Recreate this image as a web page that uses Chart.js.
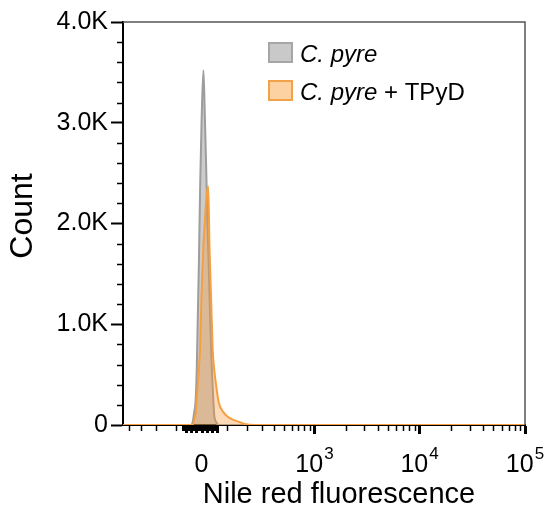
<!DOCTYPE html>
<html>
<head>
<meta charset="utf-8">
<script src="https://cdn.jsdelivr.net/npm/chart.js@4.4.0/dist/chart.umd.min.js"></script>
<style>
  html, body { margin: 0; padding: 0; background: #fff; }
  #wrap { width: 545px; height: 510px; }
</style>
</head>
<body>
<div id="wrap"><canvas id="chart" width="545" height="510"></canvas></div>
<script>
// Nile red fluorescence bins (shared by both histograms)
const binValues = [-460, -60, -40, -34, -28, -22, -18, -14, -10, -5, 0, 7, 12, 16, 20, 22, 25, 30, 36, 42, 48, 55, 66, 87, 111, 158, 185, 250, 1000, 10000, 100000];
const pyreCounts = [0, 0, 0, 20, 120, 250, 550, 1080, 1600, 2400, 3000, 3520, 3100, 2700, 2250, 2000, 1750, 1300, 750, 380, 100, 30, 0, 0, 0, 0, 0, 0, 0, 0, 0];
const tpydCounts = [0, 0, 0, 0, 50, 120, 250, 400, 550, 800, 1300, 1800, 2000, 2180, 2300, 2340, 2370, 1750, 1250, 750, 550, 400, 220, 120, 70, 30, 10, 0, 0, 0, 0];
const seriesNames = ["C. pyre", "C. pyre + TPyD"];

const yTicks = [0, 1000, 2000, 3000, 4000];
const xMajorTicks = [0, 1000, 10000, 100000];
const xTickBase = ["0", "10", "10", "10"];
const xTickExp = ["", "3", "4", "5"];
const xMinorTicks = [-400, -300, -200, -100, -70, -60, -50, -40, -30, -20, -10, 0, 10, 20, 30, 40, 50, 60,
  100, 200, 300, 400, 500, 600, 700, 800, 900,
  2000, 3000, 4000, 5000, 6000, 7000, 8000, 9000,
  20000, 30000, 40000, 50000, 60000, 70000, 80000, 90000];

const FONT = '"Liberation Sans", Arial, sans-serif';

// biexponential-ish axis: asinh transform
const W = 171;
const tf = v => Math.asinh(v / W);
const itf = t => Math.sinh(t) * W;

class BiexScale extends Chart.LinearScale {
  getPixelForValue(value) {
    const t0 = tf(this.min), t1 = tf(this.max);
    return this.getPixelForDecimal((tf(value) - t0) / (t1 - t0));
  }
  getValueForPixel(pixel) {
    const t0 = tf(this.min), t1 = tf(this.max);
    return itf(t0 + this.getDecimalForPixel(pixel) * (t1 - t0));
  }
}
BiexScale.id = 'biex';
BiexScale.defaults = Chart.LinearScale.defaults;
Chart.register(BiexScale);

const decor = {
  id: 'decor',
  afterDraw(chart) {
    const { ctx, chartArea: a, scales: { x, y } } = chart;
    ctx.save();
    // frame top + right
    ctx.strokeStyle = '#555';
    ctx.lineWidth = 1.5;
    ctx.beginPath();
    ctx.moveTo(a.left, a.top);
    ctx.lineTo(a.right, a.top);
    ctx.lineTo(a.right, a.bottom);
    ctx.stroke();

    // minor ticks (the ones near zero are packed into a dark block)
    ctx.strokeStyle = '#000';
    xMinorTicks.forEach(v => {
      const near = Math.abs(v) < 100;
      const px = Math.round(x.getPixelForValue(v)) + 0.5;
      ctx.lineWidth = near ? 3 : 1.5;
      ctx.beginPath();
      ctx.moveTo(px, a.bottom);
      ctx.lineTo(px, a.bottom + (near ? (v % 20 === 0 ? 8 : 6) : 6));
      ctx.stroke();
    });
    ctx.lineWidth = 1.5;
    ctx.beginPath();
    for (let v = 200; v < 4000; v += 200) {
      if (v % 1000 === 0) continue;
      const py = Math.round(y.getPixelForValue(v)) + 0.5;
      ctx.moveTo(a.left - 6, py);
      ctx.lineTo(a.left, py);
    }
    ctx.stroke();

    // x tick labels with superscripts
    ctx.fillStyle = '#000';
    ctx.textBaseline = 'alphabetic';
    ctx.textAlign = 'left';
    xMajorTicks.forEach((v, i) => {
      const px = x.getPixelForValue(v);
      ctx.font = '25px ' + FONT;
      const w1 = ctx.measureText(xTickBase[i]).width;
      ctx.font = '17px ' + FONT;
      const w2 = xTickExp[i] ? ctx.measureText(xTickExp[i]).width + 1 : 0;
      const sx = px - (w1 + w2) / 2;
      ctx.font = '25px ' + FONT;
      ctx.fillText(xTickBase[i], sx, a.bottom + 47);
      if (xTickExp[i]) {
        ctx.font = '17px ' + FONT;
        ctx.fillText(xTickExp[i], sx + w1 + 1, a.bottom + 34);
      }
    });

    // axis titles
    ctx.font = '29px ' + FONT;
    ctx.textAlign = 'center';
    ctx.fillText('Nile red fluorescence', 339, a.bottom + 78);
    ctx.save();
    ctx.translate(23, 216);
    ctx.rotate(-Math.PI / 2);
    ctx.font = '32px ' + FONT;
    ctx.textBaseline = 'middle';
    ctx.fillText('Count', 0, 0);
    ctx.restore();

    // legend
    const ds = chart.data.datasets;
    const lx = a.left + 146;
    [43, 81].forEach((ly, i) => {
      ctx.fillStyle = ds[i].legendFill;
      ctx.strokeStyle = ds[i].legendBorder;
      ctx.lineWidth = 2;
      ctx.fillRect(lx, ly, 23, 19);
      ctx.strokeRect(lx, ly, 23, 19);
      ctx.fillStyle = '#000';
      ctx.textAlign = 'left';
      ctx.textBaseline = 'alphabetic';
      ctx.font = 'italic 24px ' + FONT;
      const it = 'C. pyre';
      ctx.fillText(it, lx + 31, ly + 19);
      if (seriesNames[i].length > it.length) {
        const w = ctx.measureText(it).width;
        ctx.font = '24px ' + FONT;
        ctx.fillText(seriesNames[i].slice(it.length), lx + 31 + w, ly + 19);
      }
    });
    ctx.restore();
  }
};

new Chart(document.getElementById('chart'), {
  type: 'line',
  data: {
    datasets: [
      {
        label: seriesNames[0],
        data: binValues.map((v, i) => ({ x: v, y: pyreCounts[i] })),
        borderColor: '#9d9d9d',
        backgroundColor: 'rgba(128,128,128,0.4)',
        legendFill: '#c9c9c9',
        legendBorder: '#a6a6a6',
        borderWidth: 2,
        fill: 'origin',
        pointRadius: 0,
        order: 1,
        cubicInterpolationMode: 'monotone'
      },
      {
        label: seriesNames[1],
        data: binValues.map((v, i) => ({ x: v, y: tpydCounts[i] })),
        borderColor: '#f5a040',
        backgroundColor: 'rgba(245,150,50,0.35)',
        legendFill: '#fdd2a2',
        legendBorder: '#f3a24a',
        borderWidth: 2,
        fill: 'origin',
        pointRadius: 0,
        order: 0,
        cubicInterpolationMode: 'monotone'
      }
    ]
  },
  options: {
    responsive: false,
    animation: false,
    events: [],
    layout: { padding: { top: 22, right: 20, left: 0, bottom: 0 } },
    plugins: { legend: { display: false }, tooltip: { enabled: false } },
    scales: {
      x: {
        type: 'biex',
        min: -460,
        max: 100000,
        afterBuildTicks: s => { s.ticks = xMajorTicks.slice(1).map(v => ({ value: v })); },
        afterFit: s => { s.height = 85; },
        ticks: { display: false },
        grid: { drawOnChartArea: false, tickLength: 9, tickWidth: 3, tickColor: '#000' },
        border: { color: '#000', width: 2 }
      },
      y: {
        min: 0,
        max: 4000,
        afterBuildTicks: s => { s.ticks = yTicks.map(v => ({ value: v })); },
        afterFit: s => { s.width = 123; },
        ticks: {
          color: '#000',
          padding: 3,
          font: { family: FONT, size: 25 },
          callback: v => v === 0 ? '0' : (v / 1000).toFixed(1) + 'K'
        },
        grid: { drawOnChartArea: false, tickLength: 12, tickWidth: 2, tickColor: '#000' },
        border: { color: '#000', width: 2 }
      }
    }
  },
  plugins: [decor]
});
</script>
</body>
</html>
